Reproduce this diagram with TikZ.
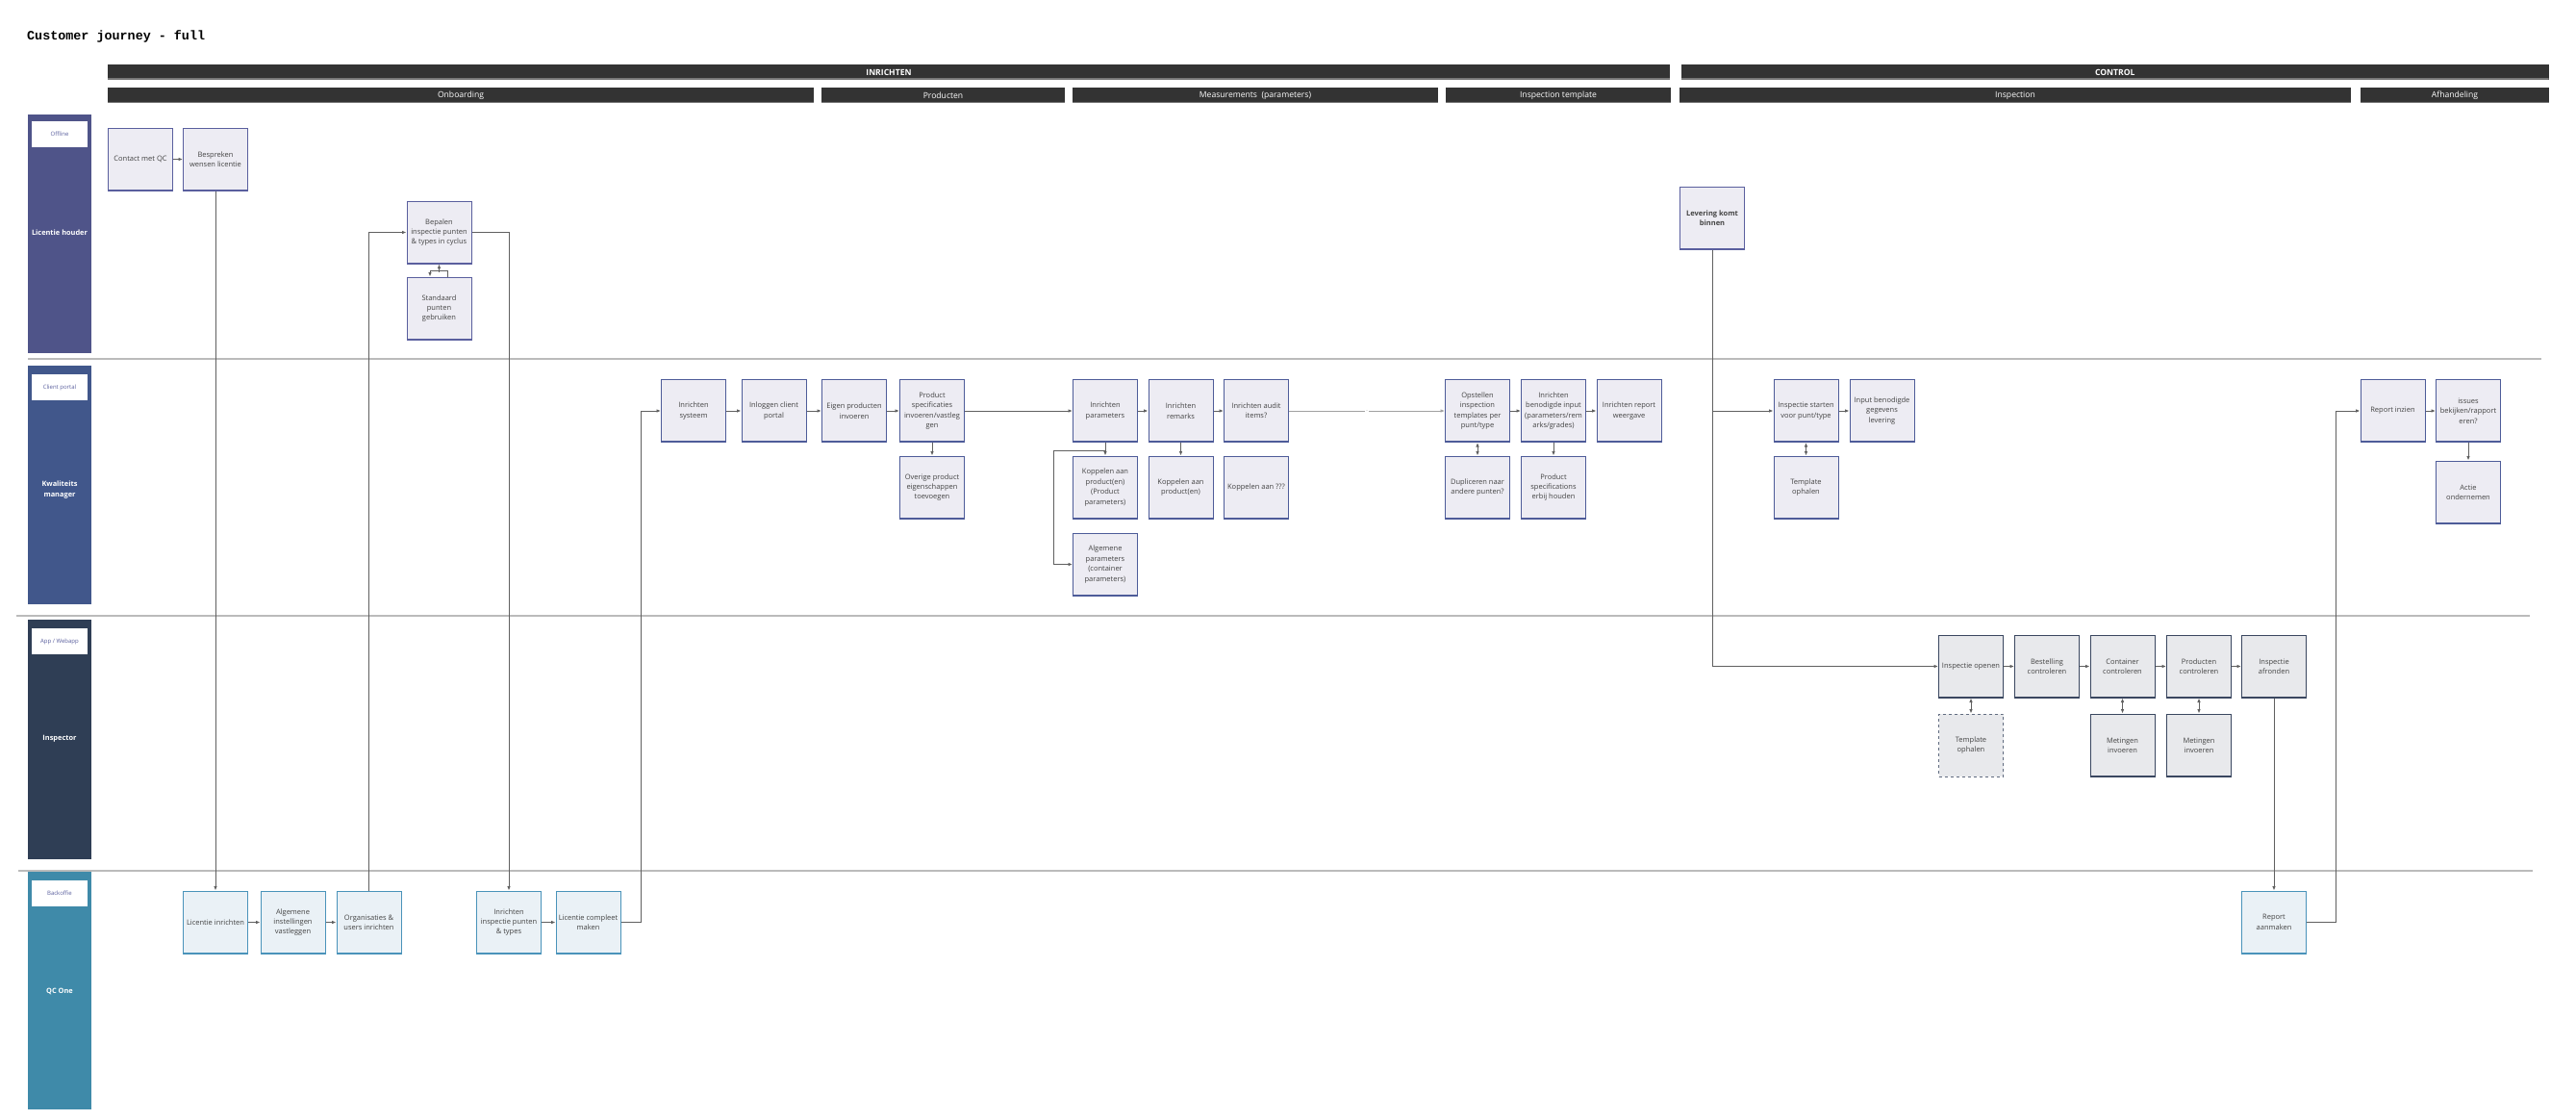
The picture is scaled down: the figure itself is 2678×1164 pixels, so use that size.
\documentclass[tikz,border=0pt]{standalone}
\usepackage{fontspec}
\setmainfont{Open Sans}
\newfontfamily\ttlfont{Liberation Mono}
\usetikzlibrary{arrows.meta,calc}
\definecolor{lhlane}{HTML}{4F5489}
\definecolor{kmlane}{HTML}{41578B}
\definecolor{inlane}{HTML}{2F3E55}
\definecolor{qclane}{HTML}{3F8AA9}
\definecolor{barc}{HTML}{333333}
\definecolor{barline}{HTML}{777777}
\definecolor{sepc}{HTML}{BBBBBB}
\definecolor{pfill}{HTML}{EDECF3}
\definecolor{pborder}{HTML}{5A5F9E}
\definecolor{kborder}{HTML}{4E5C99}
\definecolor{ifill}{HTML}{E8E9EC}
\definecolor{iborder}{HTML}{3A4760}
\definecolor{qfill}{HTML}{EAF1F6}
\definecolor{qborder}{HTML}{4A93BA}
\definecolor{txtc}{HTML}{444444}
\definecolor{lblc}{HTML}{5A5F9E}
\definecolor{connc}{HTML}{606060}
\newcommand\bxfont{\fontsize{7.5}{10.4}\selectfont}
\newcommand\hdfont{\fontsize{8.6}{10}\selectfont}
\newcommand\rolefont{\fontsize{7.4}{10.8}\selectfont\bfseries}
\newcommand\lblfont{\fontsize{6}{7}\selectfont}
\tikzset{
  box/.style={rectangle, minimum width=67pt, minimum height=65pt, inner sep=1pt,
    align=center, font=\bxfont, text=txtc, line width=1pt},
  pbox/.style={box, fill=pfill, draw=pborder,
    path picture={\fill[pborder] ([yshift=1.1pt]path picture bounding box.south west) rectangle (path picture bounding box.south east);}},
  kbox/.style={box, fill=pfill, draw=kborder,
    path picture={\fill[kborder] ([yshift=1.1pt]path picture bounding box.south west) rectangle (path picture bounding box.south east);}},
  ibox/.style={box, fill=ifill, draw=iborder,
    path picture={\fill[iborder] ([yshift=1.1pt]path picture bounding box.south west) rectangle (path picture bounding box.south east);}},
  idash/.style={box, fill=ifill, draw=iborder!80, dashed},
  qbox/.style={box, fill=qfill, draw=qborder,
    path picture={\fill[qborder] ([yshift=1.1pt]path picture bounding box.south west) rectangle (path picture bounding box.south east);}},
  bar/.style={rectangle, fill=barc, text=white, font=\hdfont, minimum height=16pt, inner sep=0pt,
    path picture={\fill[barline] ([yshift=1.5pt]path picture bounding box.south west) rectangle (path picture bounding box.south east);}},
  lane/.style={rectangle, minimum width=66.6pt, inner sep=0pt},
  lanelbl/.style={rectangle, fill=white, minimum width=58pt, minimum height=27pt, text=lblc, font=\lblfont, inner sep=0pt},
  role/.style={text=white, font=\rolefont, align=center},
  sep/.style={draw=sepc, line width=2pt},
  conn/.style={draw=connc, line width=1pt},
  arr/.style={conn, -{Latex[length=4.5pt,width=3.6pt]}},
  darr/.style={conn, {Latex[length=4.5pt,width=3.6pt]}-{Latex[length=4.5pt,width=3.6pt]}},
}
\begin{document}
\begin{tikzpicture}[x=1pt,y=-1pt]
\useasboundingbox (0,0) rectangle (2678,1164);
\fill[white] (0,0) rectangle (2678,1164);

% title
\node[anchor=west, font=\ttlfont\bfseries\fontsize{13.4}{15}\selectfont, inner sep=0pt] (title) at (28,38) {Customer journey - full};

% header bars
\node[bar, minimum width=1624pt, font=\hdfont\bfseries] (hInr) at (924,75) {INRICHTEN};
\node[bar, minimum width=901.5pt, font=\hdfont\bfseries] (hCtl) at (2198.75,75) {CONTROL};
\node[bar, minimum width=734pt] (hOnb) at (479,99) {Onboarding};
\node[bar, minimum width=253pt] (hPrd) at (980.5,99) {Producten};
\node[bar, minimum width=380pt] (hMeas) at (1305,99) {Measurements~~(parameters)};
\node[bar, minimum width=234pt] (hTpl) at (1620,99) {Inspection template};
\node[bar, minimum width=698pt] (hInsp) at (2095,99) {Inspection};
\node[bar, minimum width=196pt] (hAfh) at (2552,99) {Afhandeling};

% separators
\draw[sep] (29,373) -- (2642,373);
\draw[sep] (17,640) -- (2630,640);
\draw[sep] (19,905) -- (2633,905);

% lanes
\node[lane, fill=lhlane, minimum height=248pt] (laneLH) at (62,243) {};
\node[lanelbl] (lblLH) at (62,139.5) {Offline};
\node[role] (roleLH) at (62,242) {Licentie houder};

\node[lane, fill=kmlane, minimum height=248pt] (laneKM) at (62,504) {};
\node[lanelbl] (lblKM) at (62,402.5) {Client portal};
\node[role] (roleKM) at (62,509) {Kwaliteits\\manager};

\node[lane, fill=inlane, minimum height=249pt] (laneIN) at (62,768.5) {};
\node[lanelbl] (lblIN) at (62,666.5) {App / Webapp};
\node[role] (roleIN) at (62,768) {Inspector};

\node[lane, fill=qclane, minimum height=247pt] (laneQC) at (62,1029.5) {};
\node[lanelbl] (lblQC) at (62,928) {Backoffie};
\node[role] (roleQC) at (62,1030) {QC One};

% Licentie houder lane
\node[pbox] (contact) at (146,165.5) {Contact met QC};
\node[pbox] (bespreken) at (224,165.5) {Bespreken\\wensen licentie};
\node[pbox] (bepalen) at (456.5,241.5) {Bepalen\\inspectie punten\\\& types in cyclus};
\node[pbox] (standaard) at (456.5,320.5) {Standaard\\punten\\gebruiken};
\node[pbox, font=\bxfont\bfseries] (levering) at (1780,226.5) {Levering komt\\binnen};

% Kwaliteits manager lane, row 1
\node[kbox] (insys) at (721,427) {Inrichten\\systeem};
\node[kbox] (inlog) at (804.5,427) {Inloggen client\\portal};
\node[kbox] (eigen) at (888,427) {Eigen producten\\invoeren};
\node[kbox] (prodspec) at (969,427) {Product\\specificaties\\invoeren/vastleg\\gen};
\node[kbox] (inpar) at (1149,427) {Inrichten\\parameters};
\node[kbox] (inrem) at (1227.5,427) {Inrichten\\remarks};
\node[kbox] (inaudit) at (1306,427) {Inrichten audit\\items?};
\node[kbox] (opst) at (1536,427) {Opstellen\\inspection\\templates per\\punt/type};
\node[kbox] (inben) at (1615,427) {Inrichten\\benodigde input\\(parameters/rem\\arks/grades)};
\node[kbox] (inrep) at (1693.5,427) {Inrichten report\\weergave};
\node[kbox] (inspstart) at (1877.5,427) {Inspectie starten\\voor punt/type};
\node[kbox] (inputben) at (1956.5,427) {Input benodigde\\gegevens\\levering};
\node[kbox] (repinz) at (2487.5,427) {Report inzien};
\node[kbox] (issues) at (2566,427) {issues\\bekijken/rapport\\eren?};

% row 2
\node[kbox] (overige) at (969,506.5) {Overige product\\eigenschappen\\toevoegen};
\node[kbox] (kopprod) at (1149,506.5) {Koppelen aan\\product(en)\\(Product\\parameters)};
\node[kbox] (koprem) at (1227.5,506.5) {Koppelen aan\\product(en)};
\node[kbox] (kopaudit) at (1306,506.5) {Koppelen aan ???};
\node[kbox] (dupl) at (1536,506.5) {Dupliceren naar\\andere punten?};
\node[kbox] (prodspecs) at (1615,506.5) {Product\\specifications\\erbij houden};
\node[kbox] (templ) at (1877.5,506.5) {Template\\ophalen};
\node[kbox] (actie) at (2566,511.5) {Actie\\ondernemen};
% row 3
\node[kbox] (algpar) at (1149,586.5) {Algemene\\parameters\\(container\\parameters)};

% Inspector lane
\node[ibox] (inspopen) at (2049,692.5) {Inspectie openen};
\node[ibox] (best) at (2128,692.5) {Bestelling\\controleren};
\node[ibox] (cont) at (2206.5,692.5) {Container\\controleren};
\node[ibox] (prodc) at (2286,692.5) {Producten\\controleren};
\node[ibox] (afr) at (2364,692.5) {Inspectie\\afronden};
\node[idash] (templ2) at (2049,774.5) {Template\\ophalen};
\node[ibox] (met1) at (2206.5,774.5) {Metingen\\invoeren};
\node[ibox] (met2) at (2286,774.5) {Metingen\\invoeren};

% QC One lane
\node[qbox] (licinr) at (224,958.5) {Licentie inrichten};
\node[qbox] (alg) at (304.5,958.5) {Algemene\\instellingen\\vastleggen};
\node[qbox] (org) at (383.5,958.5) {Organisaties \&\\users inrichten};
\node[qbox] (inrinsp) at (529,958.5) {Inrichten\\inspectie punten\\\& types};
\node[qbox] (liccomp) at (611.5,958.5) {Licentie compleet\\maken};
\node[qbox] (repaan) at (2364,958.5) {Report\\aanmaken};

% connectors
\draw[arr] (contact) -- (bespreken);
\draw[arr] (bespreken.south) -- (licinr.north);
\draw[arr] (org.north) |- (bepalen.west);
\draw[arr] (bepalen.east) -| (inrinsp.north);
\draw[arr] ($(bepalen.south)+(0,8)$) -- (bepalen.south);
\draw[arr] ($(standaard.north)+(8.5,0)$) -- ++(0,-6) -| ($(standaard.north)+(-9.5,0)$);
\draw[arr] (licinr) -- (alg);
\draw[arr] (alg) -- (org);
\draw[arr] (inrinsp) -- (liccomp);
\draw[arr] (liccomp.east) -- ++(21,0) |- (insys.west);

\draw[arr] (insys) -- (inlog);
\draw[arr] (inlog) -- (eigen);
\draw[arr] (eigen) -- (prodspec);
\draw[arr] (prodspec) -- (inpar);
\draw[arr] (prodspec) -- (overige);
\draw[arr] (inpar) -- (inrem);
\draw[arr] (inrem) -- (inaudit);
\draw[arr, draw=connc!60] (inaudit) -- node[fill=white, inner sep=0.5pt, text=gray, font=\fontsize{4}{4}\selectfont] {..} (opst);
\draw[arr] (inpar) -- (kopprod);
\draw[arr] ($(inpar.south)+(0,8)$) -- ++(-54,0) |- (algpar.west);
\draw[arr] (inrem) -- (koprem);
\draw[arr] (opst) -- (inben);
\draw[arr] (inben) -- (inrep);
\draw[darr] (opst) -- (dupl);
\draw[arr] (inben) -- (prodspecs);

\draw[arr] (levering.south) |- (inspopen.west);
\draw[arr] (levering.south |- inspstart.west) -- (inspstart.west);
\draw[arr] (inspstart) -- (inputben);
\draw[darr] (inspstart) -- (templ);

\draw[arr] (inspopen) -- (best);
\draw[arr] (best) -- (cont);
\draw[arr] (cont) -- (prodc);
\draw[arr] (prodc) -- (afr);
\draw[darr] (inspopen) -- (templ2);
\draw[darr] (cont) -- (met1);
\draw[darr] (prodc) -- (met2);
\draw[arr] (afr) -- (repaan);
\draw[arr] (repaan.east) -- ++(30,0) |- (repinz.west);
\draw[arr] (repinz) -- (issues);
\draw[arr] (issues) -- (actie);
\end{tikzpicture}
\end{document}
